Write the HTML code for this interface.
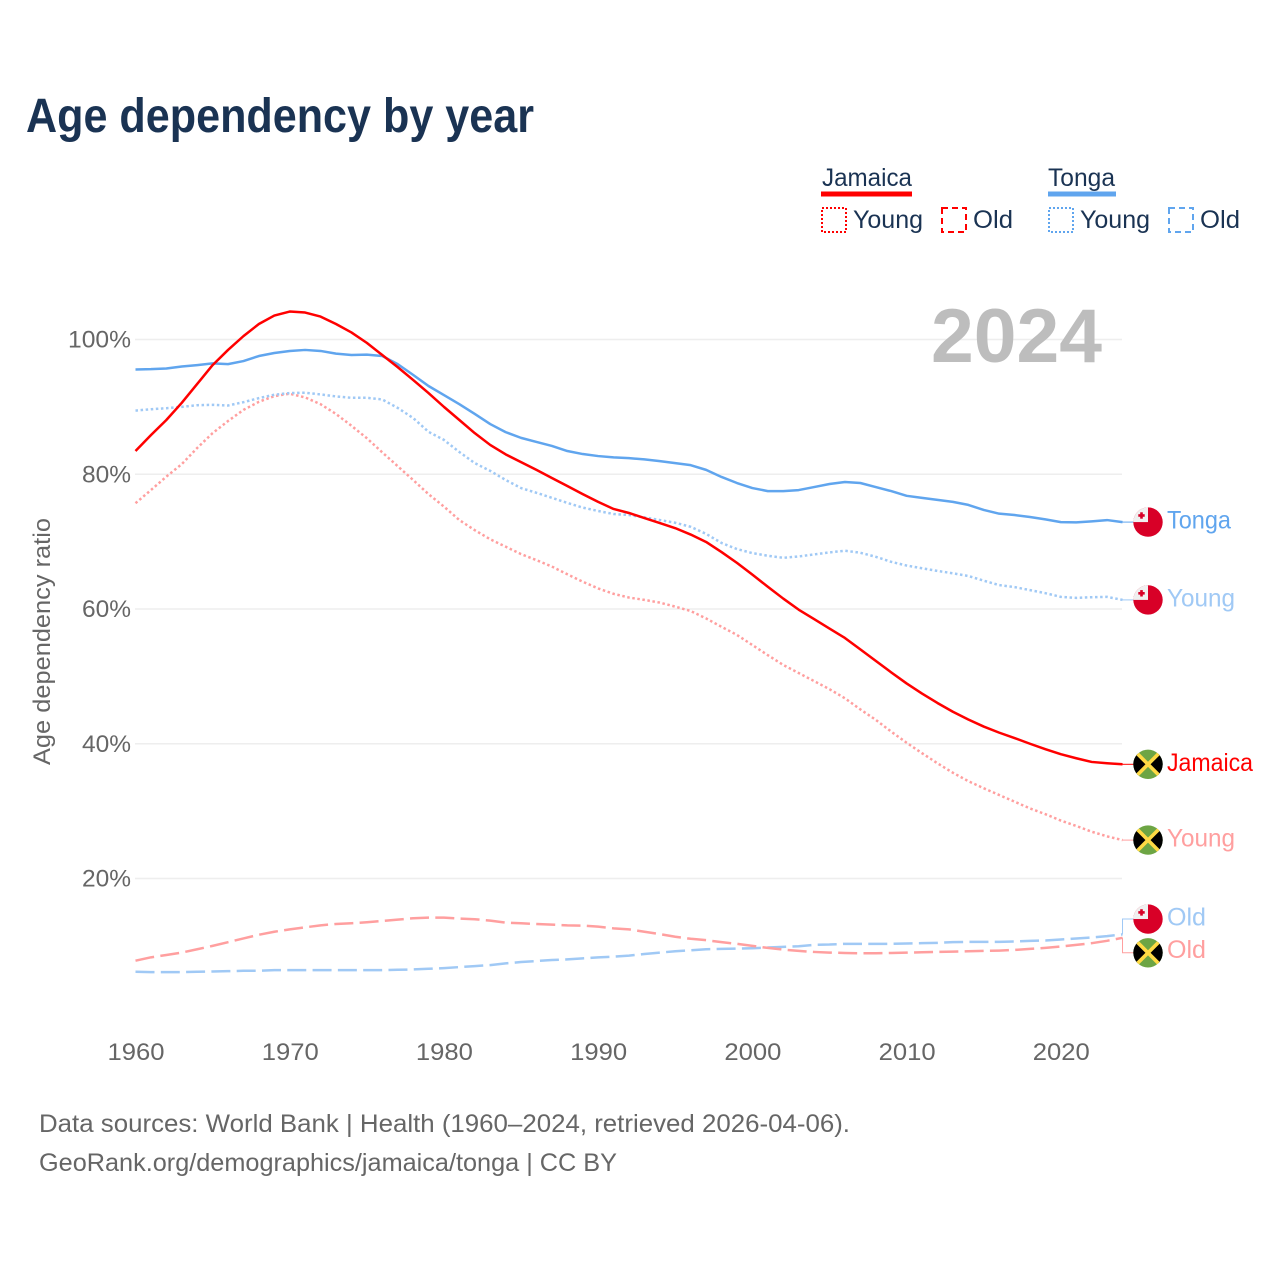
<!DOCTYPE html>
<html lang="en">
<head>
<meta charset="utf-8">
<title>Age dependency by year</title>
<style>
html,body{margin:0;padding:0;background:#fff;}
svg{display:block;font-family:"Liberation Sans",sans-serif;}
</style>
</head>
<body>
<svg id="chart" xmlns="http://www.w3.org/2000/svg" width="1280" height="1280" viewBox="0 0 1280 1280">
  <rect x="0" y="0" width="1280" height="1280" fill="#fff"/>
  <text x="26" y="132" font-size="48" font-weight="700" fill="#1a3353" textLength="508" lengthAdjust="spacingAndGlyphs">Age dependency by year</text>

  <g fill="#1a3353" font-size="25">
    <text x="822" y="186" textLength="90" lengthAdjust="spacingAndGlyphs">Jamaica</text>
    <rect x="821" y="191.5" width="91" height="5" fill="#ff0000"/>
    <text x="1048" y="186" textLength="67" lengthAdjust="spacingAndGlyphs">Tonga</text>
    <rect x="1048" y="191.5" width="68" height="5" fill="#60a5ee"/>

    <rect x="822" y="208" width="24" height="24" fill="none" stroke="#ff0000" stroke-width="2" stroke-dasharray="2 2"/>
    <text x="853" y="228" textLength="70" lengthAdjust="spacingAndGlyphs">Young</text>
    <rect x="942" y="208" width="24" height="24" fill="none" stroke="#ff0000" stroke-width="2" stroke-dasharray="6 4"/>
    <text x="973" y="228" textLength="40" lengthAdjust="spacingAndGlyphs">Old</text>
    <rect x="1049" y="208" width="24" height="24" fill="none" stroke="#60a5ee" stroke-width="2" stroke-dasharray="2 2"/>
    <text x="1080" y="228" textLength="70" lengthAdjust="spacingAndGlyphs">Young</text>
    <rect x="1169" y="208" width="24" height="24" fill="none" stroke="#60a5ee" stroke-width="2" stroke-dasharray="6 4"/>
    <text x="1200" y="228" textLength="40" lengthAdjust="spacingAndGlyphs">Old</text>
  </g>

  <g id="grid"></g>
  <text x="931" y="362" font-size="76" font-weight="700" fill="#bdbdbd" textLength="171" lengthAdjust="spacingAndGlyphs">2024</text>
  <g id="yAxis"></g>
  <g id="xAxis"></g>
  <text transform="translate(50,765) rotate(-90)" x="0" y="0" font-size="24" fill="#666" textLength="247" lengthAdjust="spacingAndGlyphs">Age dependency ratio</text>
  <g id="series"></g>
  <g id="endLabels"></g>

  <text x="39" y="1132" font-size="25" fill="#666" textLength="811" lengthAdjust="spacingAndGlyphs">Data sources: World Bank | Health (1960–2024, retrieved 2026-04-06).</text>
  <text x="39" y="1171" font-size="25" fill="#666" textLength="578" lengthAdjust="spacingAndGlyphs">GeoRank.org/demographics/jamaica/tonga | CC BY</text>
</svg>
<script>
const years = [1960,1961,1962,1963,1964,1965,1966,1967,1968,1969,
  1970,1971,1972,1973,1974,1975,1976,1977,1978,1979,
  1980,1981,1982,1983,1984,1985,1986,1987,1988,1989,
  1990,1991,1992,1993,1994,1995,1996,1997,1998,1999,
  2000,2001,2002,2003,2004,2005,2006,2007,2008,2009,
  2010,2011,2012,2013,2014,2015,2016,2017,2018,2019,
  2020,2021,2022,2023,2024];
const jamaicaTotal = [83.45,85.8,88.05,90.6,93.4,96.2,98.45,100.5,102.3,103.55,
  104.15,104.0,103.4,102.3,101.05,99.5,97.7,95.9,94.0,92.05,
  90.0,88.05,86.1,84.35,82.95,81.8,80.65,79.45,78.25,77.05,
  75.9,74.85,74.25,73.5,72.75,72.0,71.05,69.95,68.45,66.85,
  65.1,63.3,61.55,59.9,58.5,57.1,55.7,54.0,52.3,50.6,
  48.95,47.45,46.05,44.75,43.6,42.55,41.65,40.85,40.0,39.2,
  38.45,37.85,37.3,37.1,36.95];
const jamaicaYoung = [75.7,77.65,79.65,81.5,83.9,86.1,87.9,89.55,90.75,91.6,
  91.95,91.4,90.4,88.95,87.2,85.35,83.25,81.2,79.15,77.05,
  75.2,73.2,71.7,70.35,69.25,68.15,67.25,66.3,65.15,64.05,
  63.05,62.25,61.7,61.35,60.95,60.35,59.7,58.6,57.35,56.15,
  54.65,53.15,51.7,50.5,49.3,48.1,46.75,45.1,43.55,41.8,
  40.15,38.6,37.1,35.7,34.45,33.4,32.4,31.4,30.4,29.55,
  28.6,27.8,26.95,26.25,25.7];
const jamaicaOld = [7.8,8.3,8.65,9.0,9.5,10.0,10.55,11.1,11.65,12.1,
  12.45,12.75,13.05,13.25,13.35,13.5,13.7,13.9,14.1,14.2,
  14.2,14.05,13.95,13.75,13.45,13.35,13.25,13.15,13.05,13.0,
  12.85,12.6,12.45,12.1,11.75,11.35,11.05,10.85,10.55,10.3,
  10.0,9.7,9.45,9.25,9.1,9.0,8.95,8.9,8.9,8.95,
  9.0,9.05,9.1,9.15,9.2,9.25,9.3,9.4,9.55,9.7,
  9.9,10.15,10.4,10.75,11.2];
const tongaTotal = [95.55,95.6,95.7,96.0,96.2,96.45,96.35,96.8,97.55,98.0,
  98.3,98.45,98.3,97.9,97.7,97.75,97.55,96.35,94.75,93.1,
  91.75,90.4,88.95,87.45,86.25,85.4,84.8,84.2,83.45,83.0,
  82.7,82.5,82.4,82.2,81.95,81.65,81.35,80.65,79.6,78.7,
  77.95,77.5,77.5,77.65,78.1,78.55,78.85,78.7,78.1,77.5,
  76.8,76.5,76.2,75.9,75.45,74.7,74.15,73.95,73.65,73.3,
  72.9,72.85,73.0,73.2,72.9];
const tongaYoung = [89.45,89.65,89.8,90.0,90.25,90.3,90.2,90.7,91.3,91.8,
  92.05,92.1,91.85,91.55,91.35,91.35,91.1,89.85,88.35,86.3,
  85.1,83.3,81.65,80.5,79.15,77.95,77.25,76.5,75.75,75.05,
  74.55,74.1,73.95,73.6,73.2,72.8,72.2,71.15,69.8,68.9,
  68.3,67.9,67.6,67.8,68.1,68.4,68.65,68.35,67.75,67.0,
  66.45,66.05,65.65,65.3,64.9,64.2,63.55,63.25,62.8,62.35,
  61.8,61.65,61.75,61.8,61.35];
const tongaOld = [6.15,6.1,6.1,6.1,6.15,6.2,6.25,6.3,6.3,6.4,
  6.4,6.4,6.4,6.4,6.4,6.4,6.4,6.45,6.5,6.6,
  6.7,6.85,7.0,7.15,7.4,7.6,7.75,7.9,8.0,8.15,
  8.3,8.4,8.55,8.8,9.0,9.2,9.35,9.5,9.55,9.6,
  9.65,9.75,9.85,9.95,10.15,10.2,10.3,10.3,10.3,10.3,
  10.35,10.4,10.45,10.55,10.6,10.6,10.6,10.65,10.75,10.8,
  10.95,11.1,11.25,11.45,11.7];
const xTickLabels = [1960,1970,1980,1990,2000,2010,2020];
const yTickLabels = [20,40,60,80,100];

const SVG_NS = 'http://www.w3.org/2000/svg';
function xScale(year){ return 135.5 + (year - 1960) * 15.422; }
function yScale(v){ return 878.5 - (v - 20) * 6.7375; }
function make(tag, attrs, parent){
  const el = document.createElementNS(SVG_NS, tag);
  for (const k in attrs) el.setAttribute(k, attrs[k]);
  parent.appendChild(el);
  return el;
}

const gridG = document.getElementById('grid');
const yAxisG = document.getElementById('yAxis');
const xAxisG = document.getElementById('xAxis');
yTickLabels.forEach(function(t){
  const line = make('line', {x1:135, x2:1122, y1:yScale(t), y2:yScale(t), stroke:'#eeeeee', 'stroke-width':1.5}, gridG);
  
  
  const label = make('text', {x:131, y:yScale(t)+8, 'text-anchor':'end', 'font-size':24, fill:'#666', textLength:(t === 100 ? 63 : 49), lengthAdjust:'spacingAndGlyphs'}, yAxisG);
  label.textContent = t + '%';
  
  
});
xTickLabels.forEach(function(t){
  const label = make('text', {x:xScale(t)+0.5, y:1060, 'text-anchor':'middle', 'font-size':24, fill:'#666', textLength:57, lengthAdjust:'spacingAndGlyphs'}, xAxisG);
  label.textContent = t;
  
  
});

const defs = make('defs', {}, document.getElementById('chart'));
const clip = make('clipPath', {id:'flagClip'}, defs);
make('circle', {cx:0, cy:0, r:14.7}, clip);

function drawFlag(country, cx, cy, parent){
  const g = make('g', {transform:'translate(' + cx + ',' + cy + ')', 'clip-path':'url(#flagClip)'}, parent);
  if (country === 'Tonga') {
    make('rect', {x:-15, y:-15, width:30, height:30, fill:'#d80027'}, g);
    make('rect', {x:-15, y:-15, width:15, height:15, fill:'#f0f0f0'}, g);
    make('rect', {x:-7.8, y:-9.8, width:2.6, height:6.4, fill:'#d80027'}, g);
    make('rect', {x:-9.7, y:-7.9, width:6.4, height:2.6, fill:'#d80027'}, g);
  } else {
    make('rect', {x:-15, y:-15, width:30, height:30, fill:'#6da544'}, g);
    make('path', {d:'M-15 -15L0 0L-15 15ZM15 -15L0 0L15 15Z', fill:'#000'}, g);
    make('path', {d:'M-13 -13L13 13M13 -13L-13 13', stroke:'#ffda44', 'stroke-width':3.6, fill:'none'}, g);
  }
  return g;
}

const seriesList = [
  {key:'jamaica-young', values:jamaicaYoung, color:'#ff9f9f', dash:'2.5 2.6', label:'Young', country:'Jamaica', shift:0, nudge:0, width:68},
  {key:'tonga-young', values:tongaYoung, color:'#a0c9f5', dash:'2.5 2.6', label:'Young', country:'Tonga', shift:0, nudge:0, width:68},
  {key:'tonga-old', values:tongaOld, color:'#a0c9f5', dash:'19 6.3', label:'Old', country:'Tonga', shift:-15.4, nudge:0, width:39},
  {key:'jamaica-old', values:jamaicaOld, color:'#ff9f9f', dash:'19 6.3', label:'Old', country:'Jamaica', shift:15, nudge:-1.5, width:39},
  {key:'tonga-total', values:tongaTotal, color:'#60a5ee', dash:'', label:'Tonga', country:'Tonga', shift:0, nudge:0, width:64},
  {key:'jamaica-total', values:jamaicaTotal, color:'#ff0000', dash:'', label:'Jamaica', country:'Jamaica', shift:0, nudge:0, width:86}
];

const seriesG = document.getElementById('series');
const labelsG = document.getElementById('endLabels');
seriesList.forEach(function(s){
  const pts = s.values.map(function(v, i){ return xScale(years[i]).toFixed(2) + ',' + yScale(v).toFixed(2); }).join(' ');
  const attrs = {points:pts, fill:'none', stroke:s.color, 'stroke-width':2.5, 'stroke-linejoin':'round'};
  if (s.dash) attrs['stroke-dasharray'] = s.dash;
  const line = make('polyline', attrs, seriesG);
  
  

  const endValue = s.values[s.values.length - 1];
  const endX = xScale(years[years.length - 1]);
  const endY = yScale(endValue);
  const flagY = endY + s.shift;

  const connector = make('path', {d:'M' + endX + ' ' + endY + 'V' + flagY + 'H1134', fill:'none', stroke:s.color, 'stroke-width':1}, labelsG);
  
  

  const flag = drawFlag(s.country, 1148, flagY, labelsG);
  
  

  const label = make('text', {x:1167, y:flagY+6.5+s.nudge, 'font-size':25, fill:s.color, textLength:s.width, lengthAdjust:'spacingAndGlyphs'}, labelsG);
  label.textContent = s.label;
  
  
});
</script>
</body>
</html>
